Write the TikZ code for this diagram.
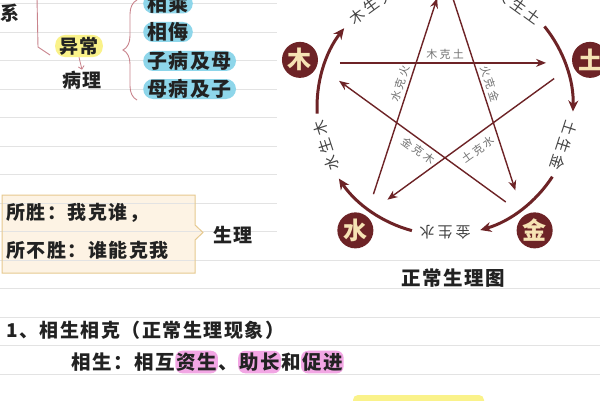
\documentclass[tikz,border=0pt]{standalone}
\usepackage{fontspec}
\usetikzlibrary{positioning,calc,arrows.meta,decorations.pathreplacing}
\newfontfamily\hei{Noto Sans CJK SC}[LetterSpace=8]
\newfontfamily\heiw{Noto Sans CJK SC}[LetterSpace=20]

\definecolor{maroon}{HTML}{6D2326}
\definecolor{cream}{HTML}{F6E3B4}
\definecolor{pinkline}{HTML}{C9838C}
\definecolor{hlyellow}{HTML}{FAF28A}
\definecolor{pillblue}{HTML}{8ED6EA}
\definecolor{boxfill}{HTML}{FDF3E4}
\definecolor{boxline}{HTML}{E6C98F}
\definecolor{hlpink}{HTML}{F2A6E4}
\definecolor{ink}{HTML}{222222}

\tikzset{
  rule/.style={gray!22, line width=.8pt},
  hand/.style={text=ink, inner sep=1pt, font={\hei\bfseries\fontsize{19}{20}\selectfont}},
  pill/.style={hand, fill=pillblue, rounded corners=10pt, minimum height=20pt,
    inner xsep=4pt, inner ysep=0pt, font={\hei\bfseries\fontsize{20}{20}\selectfont}},
  hl/.style={fill=hlpink, rounded corners=7pt, inner xsep=1pt, inner ysep=2pt},
  elem/.style={circle, fill=maroon, text=cream, minimum size=36pt, inner sep=0pt,
    font={\hei\bfseries\fontsize{24}{24}\selectfont}},
  sheng/.style={maroon, line width=3pt, -{Stealth[length=11pt,width=10pt]}},
  ke/.style={maroon, line width=1.4pt, -{Stealth[length=10pt,width=8pt]}},
  shenglbl/.style={text=ink!85, inner sep=1pt, font={\heiw\fontsize{15}{15}\selectfont}},
  kelbl/.style={text=gray!90!black, inner sep=1pt, font={\heiw\fontsize{11}{11}\selectfont}},
}

\begin{document}
\begin{tikzpicture}[x=1pt,y=1pt]
\useasboundingbox (0,0) rectangle (600,400);
\fill[white] (0,0) rectangle (600,400);

% box behind the ruled lines
\fill[boxfill] (2,205) -- (195,205) -- (195,175) -- (203,167.5) -- (195,160)
  -- (195,127) -- (2,127) -- cycle;

% ruled paper
\foreach \k in {0,...,13}{
  \pgfmathsetmacro\yy{396.5-28.5*\k}
  \ifnum\k<9
    \draw[rule] (0,\yy) -- (277,\yy);
  \else
    \draw[rule] (0,\yy) -- (600,\yy);
  \fi
}

\draw[boxline, line width=1pt] (2,205) -- (195,205) -- (195,175) -- (203,167.5) -- (195,160)
  -- (195,127) -- (2,127) -- cycle;

% left column
\node[hand] (xi) at (10,387) {系};
\draw[pinkline, line width=.9pt] (37,402) -- (38,353) -- (50,345);
\node[hand, fill=hlyellow, rounded corners=10pt, inner xsep=4pt, inner ysep=2pt] (yichang) at (79,354) {异常};
\node[hand] (bingli) at (82,320) {病理};
\draw[pinkline, line width=.8pt, -{Straight Barb[length=3pt]}] (yichang.south) -- (bingli.north);
\draw[pinkline, line width=.9pt, decorate, decoration={brace, amplitude=14pt}] (137,300) -- (137,400);

\node[pill, anchor=west] (xiangcheng) at (143,396.5) {相乘};
\node[pill, anchor=west] (xiangwu) at (143,368) {相侮};
\node[pill, anchor=west] (zibing) at (143,339) {子病及母};
\node[pill, anchor=west] (mubing) at (143,311) {母病及子};

\node[hand, anchor=west] (suosheng) at (5,187) {所胜：我克谁，};
\node[hand, anchor=west] (suobusheng) at (5,150) {所不胜：谁能克我};
\node[hand] (shengli) at (233,165) {生理};

% five elements
\coordinate (O) at (445,293);
\foreach \a/\n/\t in {162/mu/木, 90/huo/火, 18/tu/土, -54/jin/金, 234/shui/水}
  \path (O) ++(\a:152.5) node[elem] (\n) {\t};

% sheng cycle
\foreach \a in {162,90,18,-54,234}
  \draw[sheng] (O) ++(\a+21:128) arc[start angle=\a+21, end angle=\a-20, radius=128];
\foreach \a/\n/\t in {126/muhuo/木生火, 54/huotu/火生土, -18/tujin/土生金, -90/jinshui/金生水, 198/shuimu/水生木}
  \path (O) ++(\a:125) node[shenglbl, rotate=\a-90] (\n) {\t};

% ke cycle
\draw[ke] ($(mu)!40pt!(tu)!3pt!-90:(tu)$) -- node[kelbl, sloped, above=2pt, pos=.51] (mukt) {木克土}
  ($(tu)!44pt!(mu)!3pt!90:(mu)$);
\draw[ke] ($(tu)!40pt!(shui)!6pt!-90:(shui)$) -- node[kelbl, sloped, below=6pt, pos=.5] (tuks) {土克水}
  ($(shui)!44pt!(tu)!6pt!90:(tu)$);
\draw[ke] ($(shui)!40pt!(huo)!6pt!-90:(huo)$) -- node[kelbl, sloped, above=2pt, pos=.55] (shuikh) {水克火}
  ($(huo)!44pt!(shui)!6pt!90:(shui)$);
\draw[ke] ($(huo)!40pt!(jin)!6pt!-90:(jin)$) -- node[kelbl, sloped, above=2pt, pos=.47] (huokj) {火克金}
  ($(jin)!44pt!(huo)!6pt!90:(huo)$);
\draw[ke] ($(jin)!40pt!(mu)!6pt!-90:(mu)$) -- node[kelbl, sloped, below=3pt, pos=.49] (jinkm) {金克木}
  ($(mu)!44pt!(jin)!6pt!90:(jin)$);

\node[hand, font={\hei\bfseries\fontsize{19.5}{20}\selectfont}] (caption) at (453,122) {正常生理图};

% bottom lines
\node[hand, anchor=west, font={\hei\bfseries\fontsize{19}{20}\selectfont}] (title) at (5,70) {1、相生相克（正常生理现象）};
\begin{scope}[every node/.style={hand, inner xsep=0pt, font={\hei\bfseries\fontsize{19.5}{20}\selectfont}}]
\node[anchor=west] (xs1) at (71,38) {相生：相互};
\node[hl, base right=0pt of xs1] (xs2) {资生};
\node[base right=0pt of xs2] (xs3) {、};
\node[hl, base right=0pt of xs3] (xs4) {助长};
\node[base right=0pt of xs4] (xs5) {和};
\node[hl, base right=0pt of xs5] (xs6) {促进};
\end{scope}
\fill[hlyellow, rounded corners=5pt] (353,-12) rectangle (484,5);

\end{tikzpicture}
\end{document}
